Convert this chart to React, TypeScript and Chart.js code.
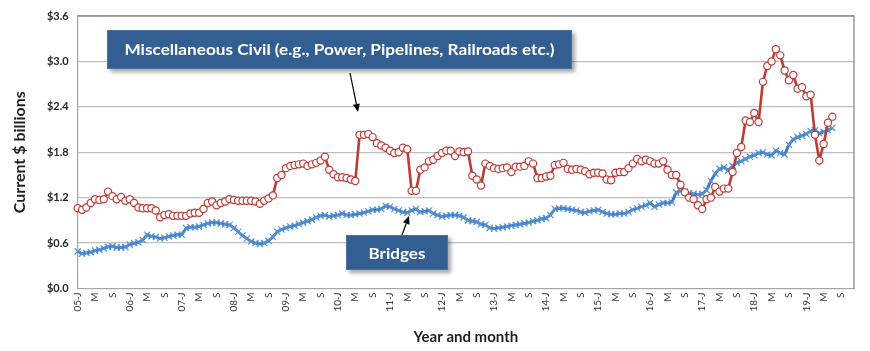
import React, { useEffect, useRef } from "react";
import { Chart, registerables } from "chart.js";

Chart.register(...registerables);

// ---- Data ----
const years = ["05", "06", "07", "08", "09", "10", "11", "12", "13", "14", "15", "16", "17", "18", "19"];
const monthLetters = ["J", "F", "M", "A", "M", "J", "J", "A", "S", "O", "N", "D"];
const yTickValues = [0, 0.6, 1.2, 1.8, 2.4, 3.0, 3.6];

const miscCivilLabel = "Miscellaneous Civil (e.g., Power, Pipelines, Railroads etc.)";
const bridgesLabel = "Bridges";
const yAxisTitle = "Current $ billions";
const xAxisTitle = "Year and month";

// Miscellaneous Civil, Jan 2005 – Jul 2019 ($ billions)
const miscCivil = [
  1.06, 1.04, 1.07, 1.13, 1.18, 1.17, 1.18, 1.28, 1.22, 1.18, 1.21, 1.16,
  1.18, 1.13, 1.07, 1.06, 1.06, 1.06, 1.03, 0.94, 0.97, 0.98, 0.96, 0.96,
  0.96, 0.96, 0.99, 1.00, 1.00, 1.05, 1.13, 1.15, 1.10, 1.13, 1.15, 1.18,
  1.17, 1.16, 1.16, 1.16, 1.16, 1.15, 1.12, 1.16, 1.19, 1.23, 1.46, 1.50,
  1.59, 1.62, 1.63, 1.64, 1.65, 1.62, 1.64, 1.66, 1.69, 1.74, 1.57, 1.51,
  1.47, 1.47, 1.46, 1.44, 1.42, 2.03, 2.03, 2.04, 2.00, 1.92, 1.89, 1.86,
  1.82, 1.79, 1.80, 1.86, 1.84, 1.29, 1.29, 1.57, 1.60, 1.68, 1.70, 1.75,
  1.79, 1.82, 1.82, 1.75, 1.81, 1.80, 1.81, 1.49, 1.44, 1.36, 1.65, 1.62,
  1.59, 1.58, 1.59, 1.60, 1.54, 1.61, 1.61, 1.62, 1.68, 1.65, 1.46, 1.46,
  1.48, 1.49, 1.63, 1.64, 1.66, 1.58, 1.57, 1.58, 1.57, 1.55, 1.51, 1.53,
  1.53, 1.52, 1.44, 1.43, 1.53, 1.54, 1.54, 1.59, 1.65, 1.71, 1.68, 1.70,
  1.68, 1.65, 1.65, 1.68, 1.57, 1.50, 1.50, 1.37, 1.27, 1.20, 1.18, 1.10,
  1.05, 1.18, 1.20, 1.34, 1.28, 1.32, 1.32, 1.54, 1.79, 1.87, 2.22, 2.20,
  2.32, 2.20, 2.73, 2.94, 3.00, 3.16, 3.08, 2.88, 2.75, 2.82, 2.64, 2.66,
  2.54, 2.56, 2.03, 1.69, 1.91, 2.19, 2.27,
];

// Bridges, Jan 2005 – Jul 2019 ($ billions)
const bridges = [
  0.49, 0.46, 0.47, 0.48, 0.50, 0.51, 0.53, 0.55, 0.56, 0.54, 0.54, 0.55,
  0.58, 0.60, 0.61, 0.64, 0.71, 0.69, 0.68, 0.66, 0.67, 0.69, 0.70, 0.71,
  0.71, 0.80, 0.81, 0.81, 0.82, 0.84, 0.86, 0.87, 0.87, 0.86, 0.85, 0.84,
  0.80, 0.75, 0.70, 0.66, 0.62, 0.60, 0.59, 0.60, 0.63, 0.68, 0.75, 0.78,
  0.80, 0.82, 0.83, 0.85, 0.87, 0.89, 0.91, 0.94, 0.96, 0.97, 0.95, 0.96,
  0.97, 0.99, 0.97, 0.97, 0.98, 0.99, 1.00, 1.02, 1.04, 1.04, 1.05, 1.09,
  1.08, 1.05, 1.03, 1.01, 1.00, 1.03, 1.05, 1.01, 1.02, 1.03, 0.99, 0.97,
  0.95, 0.96, 0.97, 0.97, 0.96, 0.94, 0.90, 0.89, 0.88, 0.85, 0.84, 0.80,
  0.79, 0.80, 0.81, 0.82, 0.83, 0.84, 0.85, 0.86, 0.87, 0.89, 0.90, 0.92,
  0.93, 0.97, 1.05, 1.06, 1.06, 1.05, 1.04, 1.03, 1.01, 1.00, 1.02, 1.03,
  1.04, 1.01, 0.99, 0.98, 0.98, 0.99, 0.99, 1.01, 1.04, 1.06, 1.08, 1.10,
  1.13, 1.08, 1.11, 1.13, 1.13, 1.14, 1.27, 1.29, 1.28, 1.26, 1.25, 1.24,
  1.25, 1.30, 1.42, 1.52, 1.58, 1.60, 1.56, 1.62, 1.66, 1.68, 1.71, 1.74,
  1.76, 1.79, 1.80, 1.77, 1.76, 1.82, 1.79, 1.77, 1.90, 1.97, 2.00, 2.02,
  2.04, 2.08, 2.09, 2.05, 2.07, 2.09, 2.12,
];

const categories = years.flatMap((y) =>
  monthLetters.map((m, i) => (i === 0 ? `${y}-${m}` : m))
);

// ---- Styling ----
const FONT = "Lato, 'DejaVu Sans', sans-serif";
const RED = "#BE3A35";
const BLUE_LINE = "#3B76BC";
const BLUE_MARK = "#5592D6";
const BOX = "#335E91";

function drawArrow(ctx: CanvasRenderingContext2D, x1: number, y1: number, x2: number, y2: number) {
  const ang = Math.atan2(y2 - y1, x2 - x1);
  const hl = 8, hw = 3.5;
  const bx = x2 - hl * Math.cos(ang);
  const by = y2 - hl * Math.sin(ang);
  ctx.save();
  ctx.strokeStyle = "#000";
  ctx.fillStyle = "#000";
  ctx.lineWidth = 1.2;
  ctx.beginPath();
  ctx.moveTo(x1, y1);
  ctx.lineTo(bx, by);
  ctx.stroke();
  ctx.beginPath();
  ctx.moveTo(x2, y2);
  ctx.lineTo(bx + hw * Math.sin(ang), by - hw * Math.cos(ang));
  ctx.lineTo(bx - hw * Math.sin(ang), by + hw * Math.cos(ang));
  ctx.closePath();
  ctx.fill();
  ctx.restore();
}

function drawBox(
  ctx: CanvasRenderingContext2D,
  x: number, y: number, w: number, h: number,
  text: string, font: string, textWidth: number
) {
  ctx.save();
  ctx.shadowColor = "rgba(0,0,0,0.35)";
  ctx.shadowBlur = 4;
  ctx.shadowOffsetX = 3;
  ctx.shadowOffsetY = 3;
  ctx.fillStyle = BOX;
  ctx.fillRect(x, y, w, h);
  ctx.restore();
  ctx.save();
  ctx.strokeStyle = "#4A72A3";
  ctx.lineWidth = 1;
  ctx.strokeRect(x + 0.5, y + 0.5, w - 1, h - 1);
  ctx.fillStyle = "#FFFFFF";
  ctx.font = font;
  ctx.textAlign = "center";
  ctx.textBaseline = "middle";
  const measured = ctx.measureText(text).width;
  const sx = textWidth / measured;
  ctx.translate(x + w / 2, y + h / 2 + 1);
  ctx.scale(sx, 1);
  ctx.fillText(text, 0, 0);
  ctx.restore();
}

const framePlugin = {
  id: "frame",
  beforeDatasetsDraw(chart: any) {
    const { ctx, chartArea: a } = chart;
    ctx.save();
    ctx.strokeStyle = "#8C8C8C";
    ctx.lineWidth = 1.3;
    ctx.beginPath();
    ctx.moveTo(a.left, a.top);
    ctx.lineTo(a.right, a.top);
    ctx.lineTo(a.right, a.bottom);
    ctx.stroke();
    ctx.restore();
  },
};

const annotationPlugin = {
  id: "annotations",
  afterDraw(chart: any) {
    const { ctx } = chart;
    drawArrow(ctx, 350, 73, 358, 112);
    drawArrow(ctx, 402, 235, 409, 216);
    drawBox(ctx, 107, 30, 465, 39, miscCivilLabel, `bold 15px ${FONT}`, 430);
    drawBox(ctx, 346, 235, 102, 35, bridgesLabel, `bold 16px ${FONT}`, 57);
  },
};

export default function App() {
  const canvasRef = useRef<HTMLCanvasElement | null>(null);

  useEffect(() => {
    if (!canvasRef.current) return;
    const chart = new Chart(canvasRef.current, {
      type: "line",
      data: {
        labels: categories,
        datasets: [
          {
            label: miscCivilLabel,
            data: miscCivil,
            borderColor: RED,
            borderWidth: 2.6,
            pointStyle: "circle",
            pointRadius: 3.6,
            pointBorderWidth: 1.2,
            pointBackgroundColor: "#FFFFFF",
            pointBorderColor: RED,
            tension: 0,
          },
          {
            label: bridgesLabel,
            data: bridges,
            borderColor: BLUE_LINE,
            borderWidth: 2.8,
            pointStyle: "crossRot",
            pointRadius: 4.4,
            pointBorderWidth: 1.2,
            pointBorderColor: BLUE_MARK,
            pointBackgroundColor: BLUE_MARK,
            tension: 0,
          },
        ],
      },
      options: {
        animation: false,
        responsive: false,
        devicePixelRatio: 1,
        layout: { padding: { top: 16, right: 11, left: 0, bottom: 0 } },
        plugins: {
          legend: { display: false },
          tooltip: { enabled: false },
        },
        scales: {
          x: {
            type: "category",
            offset: false,
            grid: { display: false, drawTicks: false },
            border: { display: true, color: "#A6A6A6", width: 1 },
            ticks: {
              autoSkip: false,
              minRotation: 90,
              maxRotation: 90,
              padding: 4,
              color: "#333333",
              font: { family: FONT, size: 10 },
              callback: function (this: any, value: any, index: number) {
                return index % 4 === 0 ? categories[index] : "";
              },
            },
            title: {
              display: true,
              text: xAxisTitle,
              color: "#1F1F1F",
              font: { family: FONT, size: 15, weight: "bold" },
              padding: { top: 0, bottom: 5 },
            },
            afterFit(scale: any) {
              scale.height = 62.5;
            },
          },
          y: {
            min: 0,
            max: 3.6,
            grid: { color: "#BFBFBF", lineWidth: 1.2, drawTicks: false },
            border: { display: true, color: "#A6A6A6", width: 1.2 },
            afterBuildTicks(scale: any) {
              scale.ticks = yTickValues.map((v) => ({ value: v }));
            },
            ticks: {
              padding: 9,
              color: "#262626",
              font: { family: FONT, size: 11, weight: "bold" },
              callback: (v: any) => "$" + Number(v).toFixed(1),
            },
            title: {
              display: true,
              text: yAxisTitle,
              color: "#1F1F1F",
              font: { family: FONT, size: 16, weight: "bold" },
              padding: { top: 10, bottom: 0 },
            },
            afterFit(scale: any) {
              scale.width = 77.7;
            },
          },
        },
      },
      plugins: [framePlugin, annotationPlugin],
    });
    return () => chart.destroy();
  }, []);

  return (
    <div style={{ position: "fixed", left: 0, top: 0, width: 870, height: 351, background: "#fff" }}>
      <canvas ref={canvasRef} width={870} height={351} />
    </div>
  );
}
